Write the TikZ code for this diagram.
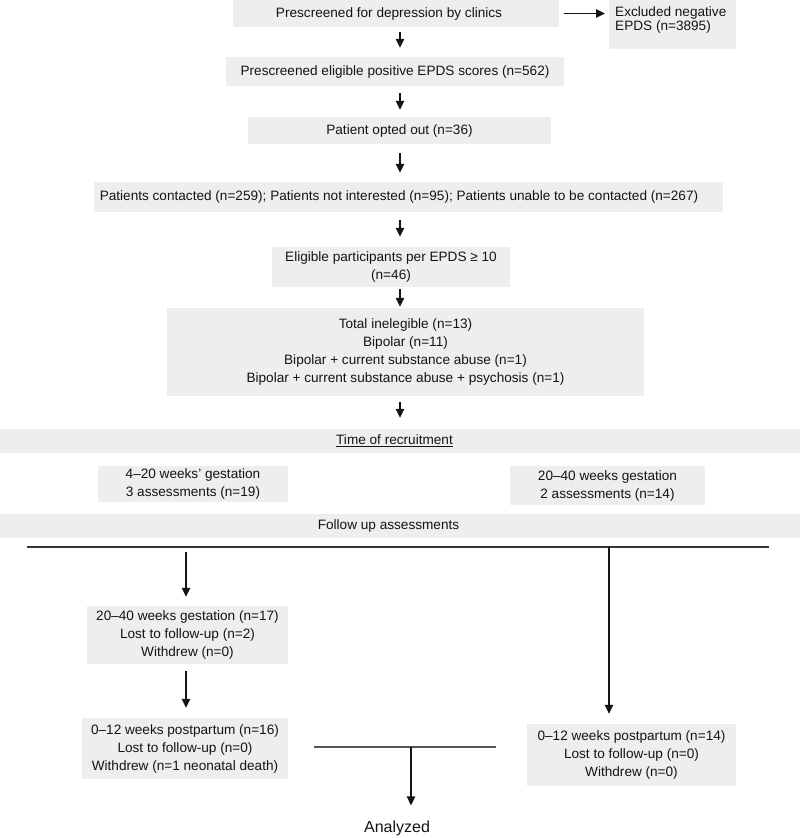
\documentclass[tikz,border=0pt]{standalone}
\usepackage{fontspec}
\setmainfont{Liberation Sans}
\usetikzlibrary{arrows.meta}
\definecolor{boxgray}{RGB}{238,238,238}
\definecolor{ink}{RGB}{20,20,20}
\definecolor{rulegray}{RGB}{55,55,55}
\definecolor{mergegray}{RGB}{85,85,85}

\begin{document}
\begin{tikzpicture}[
  x=1pt, y=-1pt,
  box/.style={rectangle, fill=boxgray, inner sep=0pt, align=center, text=ink, font=\fontsize{13.6}{18}\selectfont},
  arrow/.style={line width=1.3pt, draw=ink, -{Triangle[length=9pt, width=8.5pt]}},
  splitline/.style={line width=1.4pt, draw=rulegray},
  mergeline/.style={line width=1.2pt, draw=mergegray}
  ]
  \useasboundingbox (0,0) rectangle (800,838);

  % screening stages
  \node[box, minimum width=326pt, minimum height=27pt] (screen) at (396,13.5) {\hspace*{-14pt}Prescreened for depression by clinics};
  \node[box, anchor=north west, inner xsep=6pt, inner ysep=6.5pt, minimum width=127pt, align=left] (excluded) at (609,0)
    {\parbox[t][36pt][t]{115pt}{\fontsize{13.6}{14.3}\selectfont Excluded negative\\EPDS (n=3895)}};
  \node[box, minimum width=338pt, minimum height=29pt] (positive) at (395,71.5) {Prescreened eligible positive EPDS scores (n=562)};
  \node[box, minimum width=303pt, minimum height=27pt] (optout) at (399.5,130.5) {Patient opted out (n=36)};
  \node[box, minimum width=629pt, minimum height=30pt] (contacted) at (408.5,197) {\hspace*{-19pt}Patients contacted (n=259); Patients not interested (n=95); Patients unable to be contacted (n=267)};
  \node[box, minimum width=238pt, minimum height=40pt] (eligible) at (391,267) {Eligible participants per EPDS ≥ 10\\(n=46)};
  \node[box, minimum width=477pt, minimum height=88pt] (inelig) at (405.5,352) {Total inelegible (n=13)\\Bipolar (n=11)\\Bipolar + current substance abuse (n=1)\\Bipolar + current substance abuse + psychosis (n=1)};

  % recruitment
  \node[box, minimum width=800pt, minimum height=24pt] (recruit) at (400,441) {\hspace*{-11pt}\underline{Time of recruitment}};
  \node[box, minimum width=190pt, minimum height=36pt] (early) at (193,484) {4–20 weeks’ gestation\\3 assessments (n=19)};
  \node[box, minimum width=195pt, minimum height=39pt] (late) at (607.5,485.5) {20–40 weeks gestation\\2 assessments (n=14)};
  \node[box, minimum width=800pt, minimum height=24pt] (follow) at (400,526) {\hspace*{-23pt}Follow up assessments};

  % follow up
  \node[box, minimum width=201pt, minimum height=58pt] (gest) at (187.5,635) {20–40 weeks gestation (n=17)\\Lost to follow-up (n=2)\\Withdrew (n=0)};
  \node[box, minimum width=206pt, minimum height=61pt] (postA) at (185,748.5) {0–12 weeks postpartum (n=16)\\Lost to follow-up (n=0)\\Withdrew (n=1 neonatal death)};
  \node[box, minimum width=209pt, minimum height=62pt] (postB) at (631.5,755) {0–12 weeks postpartum (n=14)\\Lost to follow-up (n=0)\\Withdrew (n=0)};
  \node[inner sep=0pt, text=ink, font=\fontsize{16}{19}\selectfont] (analyzed) at (397,828) {Analyzed};

  % connectors
  \coordinate (axis) at (400,0);
  \draw[arrow, shorten <=5pt, shorten >=4pt] (screen.east) -- (screen.east -| excluded.west);
  \draw[arrow, shorten <=5pt, shorten >=9pt] (screen.south -| axis) -- (positive.north -| axis);
  \draw[arrow, shorten <=7pt, shorten >=7pt] (positive.south -| axis) -- (optout.north -| axis);
  \draw[arrow, shorten <=9pt, shorten >=9pt] (optout.south -| axis) -- (contacted.north -| axis);
  \draw[arrow, shorten <=8pt, shorten >=10pt] (contacted.south -| axis) -- (eligible.north -| axis);
  \draw[arrow, shorten <=2pt, shorten >=1pt] (eligible.south -| axis) -- (inelig.north -| axis);
  \draw[arrow, shorten <=6pt, shorten >=11pt] (inelig.south -| axis) -- (recruit.north -| axis);

  \coordinate (splitL) at (27,547);
  \coordinate (splitR) at (769,547);
  \coordinate (leftaxis) at (186,0);
  \coordinate (lateDrop) at (609,547);
  \draw[splitline] (splitL) -- (splitR);
  \draw[arrow, shorten <=5pt, shorten >=9pt] (splitL -| leftaxis) -- (gest.north -| leftaxis);
  \draw[arrow, shorten <=7pt, shorten >=10pt] (gest.south -| leftaxis) -- (postA.north -| leftaxis);
  \draw[arrow, shorten >=10pt] (lateDrop) -- (lateDrop |- postB.north);

  \coordinate (mergeL) at (314,747);
  \coordinate (mergeR) at (496,747);
  \coordinate (mergeC) at (411,747);
  \draw[mergeline] (mergeL) -- (mergeR);
  \draw[arrow, shorten >=15pt] (mergeC) -- (mergeC |- analyzed.north);
\end{tikzpicture}
\end{document}
